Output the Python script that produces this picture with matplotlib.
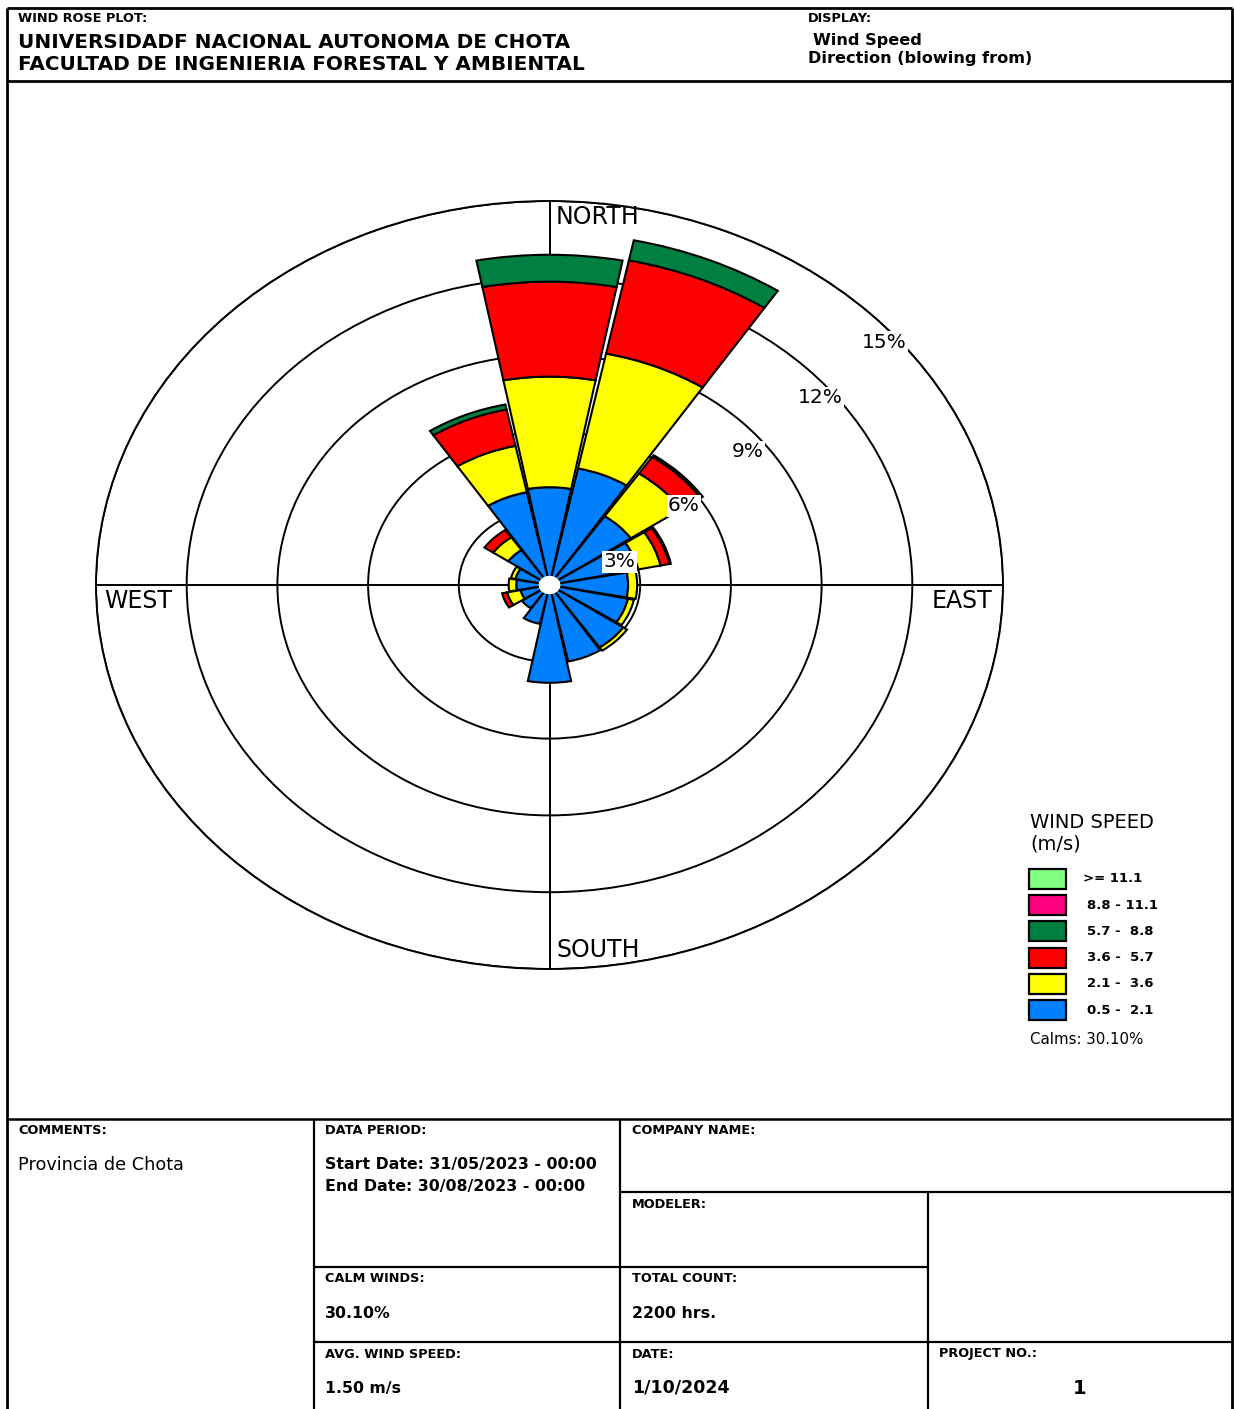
import numpy as np
import matplotlib
matplotlib.use("Agg")
import matplotlib.pyplot as plt
from matplotlib.patches import Rectangle

plt.rcParams["font.family"] = ["DejaVu Sans"]

# wind directions (blowing from), 16 sectors clockwise from north
DIRECTIONS = ["N", "NNE", "NE", "ENE", "E", "ESE", "SE", "SSE",
              "S", "SSW", "SW", "WSW", "W", "WNW", "NW", "NNW"]
DIR_DEG = [0, 22.5, 45, 67.5, 90, 112.5, 135, 157.5,
           180, 202.5, 225, 247.5, 270, 292.5, 315, 337.5]

# frequency (%) per speed class and direction
SPD_05_21 = [3.82, 4.65, 3.25, 3.00, 2.60, 2.65, 2.95, 3.05,
             3.82, 1.55, 1.10, 0.98, 1.10, 1.15, 1.65, 3.70]
SPD_21_36 = [4.32, 4.58, 2.02, 0.75, 0.30, 0.20, 0.15, 0.00,
             0.00, 0.00, 0.00, 0.45, 0.25, 0.15, 0.60, 1.85]
SPD_36_57 = [3.71, 3.72, 0.78, 0.30, 0.00, 0.00, 0.00, 0.00,
             0.00, 0.00, 0.00, 0.17, 0.00, 0.00, 0.35, 1.45]
SPD_57_88 = [1.05, 0.80, 0.08, 0.05, 0.00, 0.00, 0.00, 0.00,
             0.00, 0.00, 0.00, 0.00, 0.00, 0.00, 0.00, 0.20]
SPD_88_111 = [0.0] * 16
SPD_111 = [0.0] * 16

CLASS_LABELS = [">= 11.1", "8.8 - 11.1", "5.7 -  8.8", "3.6 -  5.7", "2.1 -  3.6", "0.5 -  2.1"]
CLASS_COLORS = ["#80ff80", "#ff0080", "#008040", "#ff0000", "#ffff00", "#0080ff"]

RING_LEVELS = [3, 6, 9, 12, 15]
CALMS = "30.10%"

W, H = 1234, 1409
fig = plt.figure(figsize=(W / 100, H / 100), dpi=100)

# overlay in pixel coordinates for frame, header, table, legend
page = fig.add_axes([0, 0, 1, 1])
page.set_xlim(0, W)
page.set_ylim(H, 0)
page.axis("off")


def line(x0, y0, x1, y1, lw=1.6):
    page.plot([x0, x1], [y0, y1], color="black", lw=lw, solid_capstyle="butt")


def txt(x, y, s, size, bold=False, **kw):
    page.text(x, y, s, fontsize=size, fontweight="bold" if bold else "normal",
              va="center", ha=kw.pop("ha", "left"), **kw)


# frame
line(7, 8, 1232, 8, 2)
line(7, 8, 7, H, 2)
line(1232, 8, 1232, H, 2)
line(7, 81, 1232, 81, 2)
line(7, 1119, 1232, 1119, 1.8)
line(314, 1119, 314, H)
line(620, 1119, 620, H)
line(620, 1192, 1232, 1192)
line(928, 1192, 928, H)
line(314, 1267, 928, 1267)
line(314, 1342, 1232, 1342)

# header
SMALL = 9.3
txt(18, 18, "WIND ROSE PLOT:", SMALL, bold=True)
txt(18, 42, "UNIVERSIDADF NACIONAL AUTONOMA DE CHOTA", 14.4, bold=True)
txt(18, 65, "FACULTAD DE INGENIERIA FORESTAL Y AMBIENTAL", 14.4, bold=True)
txt(808, 18, "DISPLAY:", SMALL, bold=True)
txt(813, 40, "Wind Speed", 11.6, bold=True)
txt(808, 59, "Direction (blowing from)", 11.6, bold=True)

# table
VAL = 11.3
txt(18, 1130, "COMMENTS:", SMALL, bold=True)
txt(18, 1165, "Provincia de Chota", 12.7)
txt(325, 1130, "DATA PERIOD:", SMALL, bold=True)
txt(325, 1165, "Start Date: 31/05/2023 - 00:00", VAL, bold=True)
txt(325, 1186, "End Date: 30/08/2023 - 00:00", VAL, bold=True)
txt(632, 1130, "COMPANY NAME:", SMALL, bold=True)
txt(632, 1205, "MODELER:", SMALL, bold=True)
txt(325, 1279, "CALM WINDS:", SMALL, bold=True)
txt(325, 1314, CALMS, VAL, bold=True)
txt(632, 1279, "TOTAL COUNT:", SMALL, bold=True)
txt(632, 1314, "2200 hrs.", VAL, bold=True)
txt(325, 1354, "AVG. WIND SPEED:", SMALL, bold=True)
txt(325, 1388, "1.50 m/s", VAL, bold=True)
txt(632, 1354, "DATE:", SMALL, bold=True)
txt(632, 1388, "1/10/2024", 12.5, bold=True)
txt(939, 1354, "PROJECT NO.:", SMALL, bold=True)
txt(1080, 1388, "1", 14, bold=True, ha="center")

# legend
txt(1030, 823, "WIND SPEED", 14)
txt(1030, 844, "(m/s)", 14)
for i, (lab, col) in enumerate(zip(CLASS_LABELS, CLASS_COLORS)):
    yc = 879 + i * 26.2
    page.add_patch(Rectangle((1029, yc - 10), 37, 20, facecolor=col,
                             edgecolor="black", lw=1.6))
    txt(1083 if i == 0 else 1087, yc, lab, 9.5, bold=True)
txt(1030, 1039, "Calms: " + CALMS, 10.8)

# cardinal labels
CARD = 17
txt(556, 217, "NORTH", CARD)
txt(556, 950, "SOUTH", CARD)
txt(104, 601, "WEST", CARD)
txt(932, 601, "EAST", CARD)

# polar rose, stretched to the elliptical rings of the original
cx, cy, rx, ry = 549.5, 585, 453.5, 384
ax = fig.add_axes([(cx - rx) / W, 1 - (cy + ry) / H, 2 * rx / W, 2 * ry / H],
                  projection="polar")
ax.set_aspect("auto")
ax.set_theta_zero_location("N")
ax.set_theta_direction(-1)
ax.set_ylim(0, 15)
ax.set_yticks(RING_LEVELS)
ax.set_yticklabels([])
ax.set_xticks(np.deg2rad([0, 90, 180, 270]))
ax.set_xticklabels([])
ax.grid(True, color="black", lw=1.4, ls="-")
ax.set_axisbelow(True)
ax.spines["polar"].set_linewidth(1.4)
ax.patch.set_alpha(0)

theta = np.deg2rad(DIR_DEG)
stack = [SPD_05_21, SPD_21_36, SPD_36_57, SPD_57_88, SPD_88_111, SPD_111]
bottom = np.zeros(len(theta))
for vals, col in zip(stack, CLASS_COLORS[::-1]):
    vals = np.asarray(vals)
    m = vals > 0
    if m.any():
        ax.bar(theta[m], vals[m], width=np.deg2rad(21.6), bottom=bottom[m],
               color=col, edgecolor="black", linewidth=1.5, zorder=3)
    bottom += vals

# calm circle
ax.bar(0, 0.36, width=2 * np.pi, bottom=0, color="white", edgecolor="none", zorder=4)

# ring labels
label_pos = [(68.8, 2.49), (55.2, 5.42), (51.6, 8.38), (50.8, 11.56), (49.4, 14.58)]
for lev, (a, r) in zip(RING_LEVELS, label_pos):
    ax.text(np.deg2rad(a), r, f"{lev}%", fontsize=14.5, ha="center", va="center",
            zorder=5, bbox=dict(facecolor="white", edgecolor="none", pad=1))

fig.savefig("out.png", dpi=100)
